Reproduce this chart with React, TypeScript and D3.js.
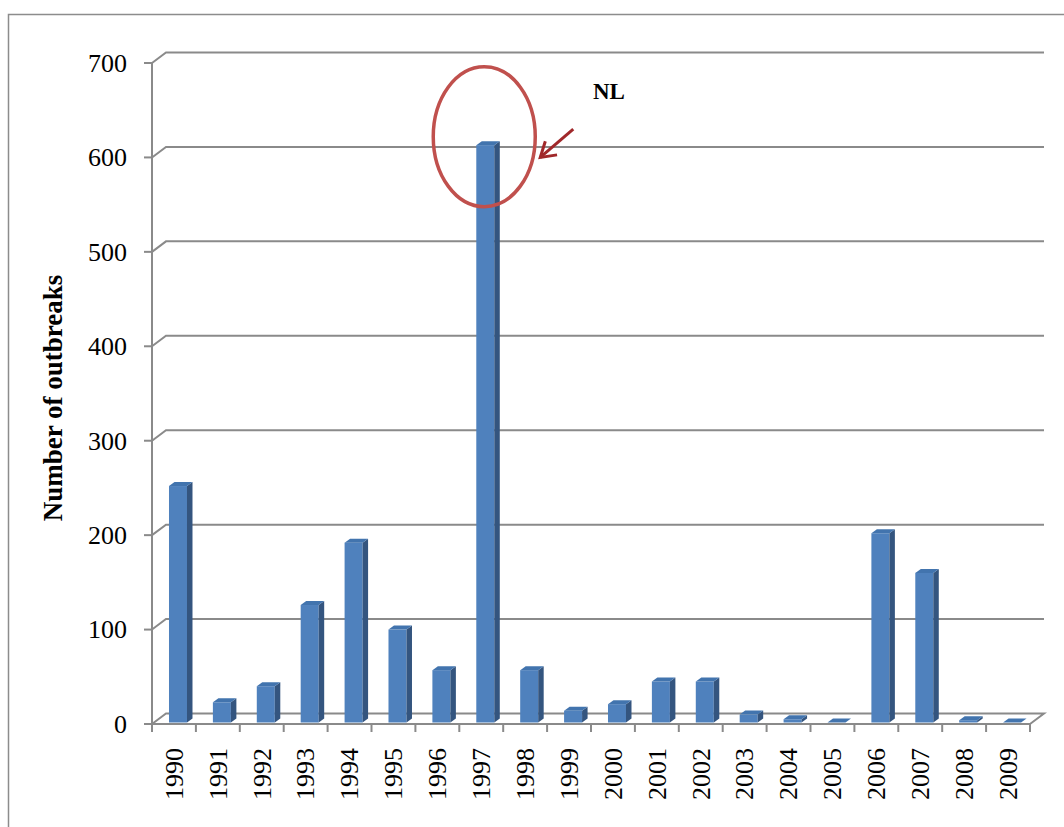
import React from "react";
import * as d3 from "d3";

const years = ["1990","1991","1992","1993","1994","1995","1996","1997","1998","1999","2000","2001","2002","2003","2004","2005","2006","2007","2008","2009"];
const outbreaks = [252, 23, 40, 126, 192, 100, 57, 613, 57, 14, 21, 45, 45, 10, 5, 0, 202, 160, 4, 0];
const yTicks = [0, 100, 200, 300, 400, 500, 600, 700];
const yTitle = "Number of outbreaks";
const noteLabel = "NL";
const noteYear = "1997";

const W = 1064, H = 827;
const FONT = "'Liberation Serif', 'Times New Roman', serif";

export default function App() {
  const x = d3.scaleBand<string>().domain(years).range([152, 1030]).padding(0);
  const y = d3.scaleLinear().domain([0, 700]).range([724, 63]);
  const bw = x.bandwidth();
  const wallDx = 14, wallDy = 10.5;
  const barOff = bw * 0.387, barW = bw * 0.41, bDx = 5.5, bDy = 4;
  const y0 = y(0);

  const gridColor = "#8a8a8a";

  const noteCx = (x(noteYear) as number) + bw / 2 + 3;
  const noteCy = y(622);
  const arrowStart: [number, number] = [noteCx + 89, y(630)];
  const arrowEnd: [number, number] = [noteCx + 56, y(600)];
  const ang = Math.atan2(arrowEnd[1] - arrowStart[1], arrowEnd[0] - arrowStart[0]);
  const headLen = 17, headAng = (32 * Math.PI) / 180;
  const w1: [number, number] = [arrowEnd[0] - headLen * Math.cos(ang - headAng), arrowEnd[1] - headLen * Math.sin(ang - headAng)];
  const w2: [number, number] = [arrowEnd[0] - headLen * Math.cos(ang + headAng), arrowEnd[1] - headLen * Math.sin(ang + headAng)];

  return (
    <svg width={W} height={H} style={{ position: "absolute", left: 0, top: 0, background: "#fff" }}>
      <rect x={8.5} y={14.5} width={1200} height={1000} fill="#fff" stroke="#8c8c8c" strokeWidth={1.5} />
      {/* gridlines with 3D wall */}
      {yTicks.filter(v => v > 0).map(v => (
        <path key={"g" + v}
          d={`M${x.range()[0]},${y(v)} L${x.range()[0] + wallDx},${y(v) - wallDy} L${x.range()[1] + wallDx},${y(v) - wallDy}`}
          fill="none" stroke={gridColor} strokeWidth={2} />
      ))}
      {/* floor back + sides */}
      <path d={`M${x.range()[0]},${y0} L${x.range()[0] + wallDx},${y0 - wallDy} L${x.range()[1] + wallDx},${y0 - wallDy} L${x.range()[1]},${y0}`}
        fill="none" stroke={gridColor} strokeWidth={2} />
      {/* bars */}
      {years.map((yr, i) => {
        const v = outbreaks[i];
        const xl = (x(yr) as number) + barOff;
        const xr = xl + barW;
        const yt = y(v);
        const yb = y0 - 1.5;
        const top = Math.min(yt, yb);
        return (
          <g key={yr}>
            {v > 0 && <rect x={xl} y={top} width={barW} height={yb - top} fill="#4f81bd" />}
            {v > 0 && <path d={`M${xr},${yb} L${xr},${top} L${xr + bDx},${top - bDy} L${xr + bDx},${yb - bDy} Z`} fill="#34557f" />}
            <path d={`M${xl},${top} L${xr},${top} L${xr + bDx},${top - bDy} L${xl + bDx},${top - bDy} Z`} fill="#4274ae" />
          </g>
        );
      })}
      {/* y axis */}
      <line x1={x.range()[0]} x2={x.range()[0]} y1={y(700)} y2={y0} stroke={gridColor} strokeWidth={2} />
      {yTicks.map(v => (
        <g key={"t" + v}>
          <line x1={x.range()[0] - 8} x2={x.range()[0]} y1={y(v)} y2={y(v)} stroke={gridColor} strokeWidth={2} />
          <text x={127} y={y(v)} dy="0.34em" textAnchor="end" fontFamily={FONT} fontSize={26} fill="#000">{v}</text>
        </g>
      ))}
      {/* x axis */}
      <line x1={x.range()[0]} x2={x.range()[1]} y1={y0} y2={y0} stroke={gridColor} strokeWidth={2} />
      {years.map(yr => (
        <line key={"xt" + yr} x1={x(yr) as number} x2={x(yr) as number} y1={y0} y2={y0 + 8} stroke={gridColor} strokeWidth={2} />
      ))}
      <line x1={x.range()[1]} x2={x.range()[1]} y1={y0} y2={y0 + 8} stroke={gridColor} strokeWidth={2} />
      {years.map(yr => (
        <text key={"xl" + yr} transform={`translate(${(x(yr) as number) + bw / 2},748) rotate(-90)`}
          dy="0.34em" textAnchor="end" fontFamily={FONT} fontSize={26} fill="#000">{yr}</text>
      ))}
      {/* y title */}
      <text transform="translate(53,398) rotate(-90)" dy="0.34em" textAnchor="middle" fontFamily={FONT}
        fontSize={27} fontWeight="bold" fill="#000">{yTitle}</text>
      {/* annotation */}
      <ellipse cx={noteCx} cy={noteCy} rx={51} ry={70} fill="none" stroke="#c0504d" strokeWidth={3.5} />
      <line x1={arrowStart[0]} y1={arrowStart[1]} x2={arrowEnd[0]} y2={arrowEnd[1]} stroke="#a0282a" strokeWidth={3} />
      <polyline points={`${w1[0]},${w1[1]} ${arrowEnd[0]},${arrowEnd[1]} ${w2[0]},${w2[1]}`} fill="none" stroke="#a0282a" strokeWidth={3} strokeLinejoin="miter" />
      <text x={593} y={99} fontFamily={FONT} fontSize={23} fontWeight="bold" fill="#000">{noteLabel}</text>
    </svg>
  );
}
